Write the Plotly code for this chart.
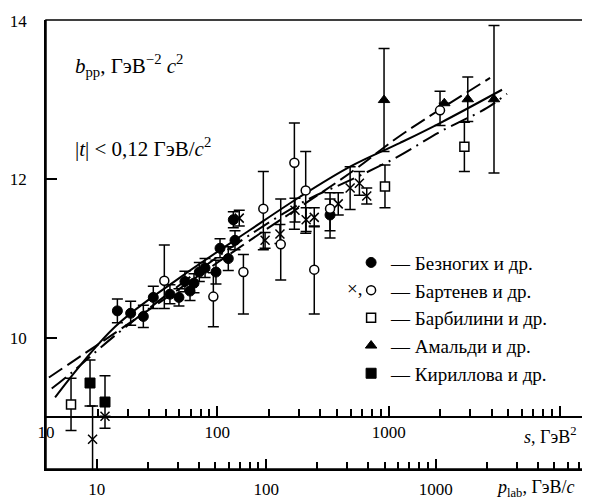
import plotly.graph_objects as go

# ---------------- data ----------------
# fitted curves: s [GeV^2], b [GeV^-2 c^2]
solid_s = [11.3, 25.3, 60.5, 155, 304, 596, 1167, 1995, 4590]
solid_b = [9.25, 10.14, 10.76, 11.36, 11.78, 12.16, 12.46, 12.71, 13.13]
dashed_s = [10.4, 19.3, 46.3, 155, 596, 1167, 3910]
dashed_b = [9.50, 9.89, 10.45, 11.23, 12.08, 12.55, 13.28]
dashdot_s = [10.8, 14.1, 25.3, 79.3, 155, 334, 571, 1119, 1995, 3750, 4910]
dashdot_b = [9.36, 9.56, 10.03, 10.86, 11.30, 11.74, 11.97, 12.28, 12.60, 12.90, 13.08]

# Безногих и др. (filled circles)
bez_s = [26.1, 31.2, 37.0, 42.3, 52.9, 59.7, 64.7, 69.3, 73.1, 78.5, 84.8, 98.2, 103.7, 115.9, 124, 126.8, 455]
bez_b = [10.34, 10.31, 10.27, 10.51, 10.55, 10.51, 10.71, 10.59, 10.69, 10.83, 10.88, 10.83, 11.13, 11.00, 11.49, 11.23, 11.55]
bez_e = [0.15, 0.15, 0.14, 0.14, 0.12, 0.11, 0.13, 0.12, 0.12, 0.12, 0.12, 0.15, 0.12, 0.15, 0.10, 0.12, 0.2]

# Бартенев и др. (open circles)
bar_s = [49.05, 94.8, 142, 185.6, 234.5, 281.7, 328, 368, 455, 1995]
bar_b = [10.72, 10.52, 10.83, 11.63, 11.18, 12.21, 11.86, 10.86, 11.63, 12.87]
bar_ep = [0.45, 0.30, 0.22, 0.47, 0.57, 0.50, 0.49, 0.55, 0.20, 0.24]
bar_em = [0.35, 0.38, 0.53, 0.52, 0.45, 0.84, 0.54, 0.56, 0.37, 0.19]

# Бартенев и др. (crosses)
bx_s = [18.7, 22.1, 134.3, 190, 232, 284, 330, 368, 508, 596, 675, 745]
bx_b = [8.72, 9.01, 11.51, 11.23, 11.31, 11.61, 11.49, 11.52, 11.69, 11.89, 11.95, 11.79]
bx_e = [0.42, 0.0, 0.10, 0.10, 0.12, 0.15, 0.15, 0.12, 0.14, 0.27, 0.15, 0.10]

# Барбилини и др. (open squares)
barb_s = [14.0, 952, 2768]
barb_b = [9.16, 11.91, 12.41]
barb_e = [0.33, 0.27, 0.31]

# Амальди и др. (filled triangles)
ama_s = [940, 2113, 2897, 4121]
ama_b = [13.0, 12.96, 13.01, 13.01]
ama_e = [0.65, 0.0, 0.28, 0.93]

# Кириллова и др. (filled squares)
kir_s = [18.07, 22.1]
kir_b = [9.43, 9.19]
kir_e = [0.29, 0.33]

# axis ticks
s_major = [10, 100, 1000, 10000]
s_major_text = ["10", "100", "1000", " "]
s_minor = [20, 30, 40, 50, 60, 70, 80, 90, 200, 300, 400, 500, 600, 700, 800, 900,
           2000, 3000, 4000, 5000, 6000, 7000, 8000, 9000]
p_major = [10, 100, 1000]
p_major_text = ["10", "100", "1000"]
p_minor = [20, 30, 40, 50, 60, 70, 80, 90, 200, 300, 400, 500, 600, 700, 800, 900,
           2000, 3000, 4000, 5000, 6000, 7000]
y_ticks = [10, 12, 14]

# ---------------- figure ----------------
FONT = "Liberation Serif, Times New Roman, DejaVu Serif, serif"
K = "black"
fig = go.Figure()

fig.add_trace(go.Scatter(x=solid_s, y=solid_b, mode="lines", line=dict(color=K, width=2, shape="spline"),
                         showlegend=False, hoverinfo="skip"))
fig.add_trace(go.Scatter(x=dashed_s, y=dashed_b, mode="lines",
                         line=dict(color=K, width=2, dash="16px,6px", shape="spline"),
                         showlegend=False, hoverinfo="skip"))
fig.add_trace(go.Scatter(x=dashdot_s, y=dashdot_b, mode="lines",
                         line=dict(color=K, width=2, dash="18px,6px,2px,6px", shape="spline"),
                         showlegend=False, hoverinfo="skip"))

def eb(arr, arrm=None):
    d = dict(type="data", array=arr, color=K, thickness=1.5, width=5.5)
    if arrm is not None:
        d["arrayminus"] = arrm
        d["symmetric"] = False
    return d

fig.add_trace(go.Scatter(x=bx_s, y=bx_b, mode="markers", error_y=eb(bx_e),
                         marker=dict(symbol="x-thin-open", size=9, color=K, line=dict(color=K, width=1.5)),
                         showlegend=False))
fig.add_trace(go.Scatter(x=bez_s, y=bez_b, mode="markers", error_y=eb(bez_e), name="— Безногих и др.",
                         legendgroup="a",
                         marker=dict(symbol="circle", size=10, color=K, line=dict(color=K, width=1))))
fig.add_trace(go.Scatter(x=bar_s, y=bar_b, mode="markers", error_y=eb(bar_ep, bar_em), name="— Бартенев и др.",
                         legendgroup="b",
                         marker=dict(symbol="circle", size=9, color="white", line=dict(color=K, width=1.5))))
fig.add_trace(go.Scatter(x=barb_s, y=barb_b, mode="markers", error_y=eb(barb_e), name="— Барбилини и др.",
                         legendgroup="c",
                         marker=dict(symbol="square", size=9, color="white", line=dict(color=K, width=1.5))))
fig.add_trace(go.Scatter(x=ama_s, y=ama_b, mode="markers", error_y=eb(ama_e), name="— Амальди и др.",
                         legendgroup="d",
                         marker=dict(symbol="triangle-up", size=10, color=K, line=dict(color=K, width=1))))
fig.add_trace(go.Scatter(x=kir_s, y=kir_b, mode="markers", error_y=eb(kir_e), name="— Кириллова и др.",
                         legendgroup="e",
                         marker=dict(symbol="square", size=10, color=K, line=dict(color=K, width=1))))
# empty trace to attach the p_lab axis
fig.add_trace(go.Scatter(x=[], y=[], xaxis="x2", showlegend=False))

tickfont = dict(family=FONT, size=17, color=K)
# the page body adds an 8px offset, so the figure is 582x494 and the margins compensate
fig.update_layout(
    width=582, height=494,
    margin=dict(l=38, r=4, t=12, b=33, autoexpand=False),
    paper_bgcolor="white", plot_bgcolor="white",
    font=dict(family=FONT, color=K, size=17),
    xaxis=dict(type="log", range=[1, 4.152], anchor="free", position=0.1156, automargin=False,
               tickmode="array", tickvals=s_major, ticktext=s_major_text,
               ticks="inside", ticklen=10, tickwidth=1.5, tickcolor=K,
               minor=dict(tickmode="array", tickvals=s_minor, ticks="inside", ticklen=7, tickwidth=1.5, tickcolor=K),
               showline=True, linewidth=1.5, linecolor=K, showgrid=False, zeroline=False,
               tickfont=tickfont),
    xaxis2=dict(type="log", range=[0.701, 3.887], overlaying="x", anchor="y", side="bottom", automargin=False,
                tickmode="array", tickvals=p_major, ticktext=p_major_text,
                ticks="inside", ticklen=10, tickwidth=1.5, tickcolor=K, ticklabelstandoff=4,
                minor=dict(tickmode="array", tickvals=p_minor, ticks="inside", ticklen=7, tickwidth=1.5, tickcolor=K),
                showline=True, linewidth=1.5, linecolor=K, showgrid=False, zeroline=False,
                tickfont=tickfont),
    yaxis=dict(range=[8.345, 14.01], tickmode="array", tickvals=y_ticks, automargin=False,
               ticks="inside", ticklen=11, tickwidth=1.5, tickcolor=K, ticklabelstandoff=14,
               showline=True, linewidth=1.5, linecolor=K, showgrid=False, zeroline=False,
               tickfont=tickfont),
    legend=dict(x=0.565, y=0.502, xanchor="left", yanchor="top",
                font=dict(family=FONT, size=19, color=K), bgcolor="rgba(0,0,0,0)",
                traceorder="grouped", tracegroupgap=0),
    shapes=[dict(type="rect", xref="paper", yref="paper", x0=0, x1=1, y0=0, y1=1,
                 line=dict(color=K, width=1.5), layer="above")],
    annotations=[
        dict(xref="paper", yref="paper", x=0.05, y=0.8976, xanchor="left", yanchor="middle", showarrow=False,
             text="<i>b</i><sub>pp</sub>, ГэВ<sup>−2</sup> <i>c</i><sup>2</sup>", font=dict(family=FONT, size=21)),
        dict(xref="paper", yref="paper", x=0.05, y=0.7171, xanchor="left", yanchor="middle", showarrow=False,
             text="|<i>t</i>| < 0,12 ГэВ/<i>c</i><sup>2</sup>", font=dict(family=FONT, size=21)),
        dict(xref="paper", yref="paper", x=0.985, y=0.0735, xanchor="right", yanchor="middle", showarrow=False,
             text="<i>s</i>, ГэВ<sup>2</sup>", font=dict(family=FONT, size=18)),
        dict(xref="paper", yref="paper", x=0.983, y=-0.0445, xanchor="right", yanchor="middle", showarrow=False,
             text="<i>p</i><sub>lab</sub>, ГэВ/<i>c</i>", font=dict(family=FONT, size=18)),
        dict(xref="paper", yref="paper", x=0.571, y=0.403, xanchor="center", yanchor="middle", showarrow=False,
             text="×,", font=dict(family=FONT, size=19)),
    ],
)

fig.write_html("out.html")
